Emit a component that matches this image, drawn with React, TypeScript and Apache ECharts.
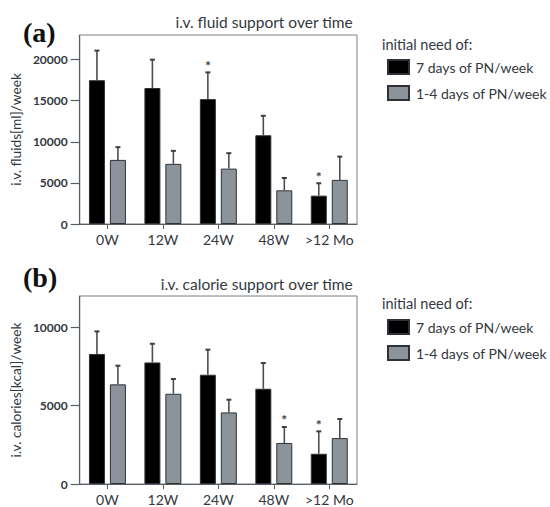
import React, { useEffect, useRef } from "react";
import * as echarts from "echarts";

const categories = ["0W", "12W", "24W", "48W", ">12 Mo"];
const seriesNames = ["7 days of PN/week", "1-4 days of PN/week"];

// Panel (a): i.v. fluids [ml]/week
const fluidDaily = [17500, 16550, 15200, 10800, 3450];
const fluidDailySd = [3600, 3450, 3250, 2370, 1510];
const fluidDailyStar = [0, 0, 1, 0, 1];
const fluidPartial = [7800, 7320, 6740, 4100, 5370];
const fluidPartialSd = [1550, 1580, 1880, 1500, 2830];
const fluidPartialStar = [0, 0, 0, 0, 0];
const fluidTicks = [0, 5000, 10000, 15000, 20000];

// Panel (b): i.v. calories [kcal]/week
const calDaily = [8300, 7760, 6975, 6080, 1930];
const calDailySd = [1440, 1190, 1600, 1640, 1430];
const calDailyStar = [0, 0, 0, 0, 1];
const calPartial = [6360, 5760, 4570, 2620, 2930];
const calPartialSd = [1190, 940, 810, 1020, 1220];
const calPartialStar = [0, 0, 0, 1, 0];
const calTicks = [0, 5000, 10000];

const TEXT = "#33383e";
const AXIS = "#5a5f66";
const GREY = "#8c939b";
const FONT = "Lato, 'Open Sans', sans-serif";
const BAR_W = 16;
const OFFSET = 10.5;

function errRows(vals: number[], sds: number[], stars: number[]) {
  return vals.map((v, i) => [i, v, sds[i], stars[i]]);
}

function errSeries(rows: number[][], axis: number, dir: number) {
  return {
    type: "custom",
    xAxisIndex: axis,
    yAxisIndex: axis,
    encode: { x: 0, y: 1 },
    data: rows,
    z: 5,
    silent: true,
    renderItem: (params: any, api: any) => {
      const idx = api.value(0);
      const v = api.value(1);
      const sd = api.value(2);
      const star = api.value(3);
      const base = api.coord([idx, v]);
      const top = api.coord([idx, v + sd]);
      const x = base[0] + dir * OFFSET;
      const children: any[] = [
        {
          type: "line",
          shape: { x1: x, y1: base[1], x2: x, y2: top[1] },
          style: { stroke: "#4a4f55", lineWidth: 1.6 },
        },
        {
          type: "line",
          shape: { x1: x - 2.5, y1: top[1], x2: x + 2.5, y2: top[1] },
          style: { stroke: "#3a3f45", lineWidth: 2 },
        },
      ];
      if (star) {
        children.push({
          type: "text",
          x: x,
          y: top[1] - 7,
          style: {
            text: "*",
            fill: "#3a3f45",
            font: "bold 14px " + FONT,
            align: "center",
            verticalAlign: "middle",
          },
        });
      }
      return { type: "group", children };
    },
  };
}

function barSeries(name: string, data: number[], axis: number, color: string) {
  return {
    type: "bar",
    name,
    xAxisIndex: axis,
    yAxisIndex: axis,
    data,
    barWidth: BAR_W,
    barGap: "31%",
    itemStyle: { color, borderColor: "#2e3238", borderWidth: 1 },
  };
}

function yAxis(gridIndex: number, max: number, ticks: number[], name: string) {
  return {
    type: "value",
    gridIndex,
    min: 0,
    max,
    interval: 5000,
    name,
    nameLocation: "middle",
    nameGap: 53,
    nameTextStyle: { color: TEXT, fontSize: 13.7, fontFamily: FONT },
    axisLine: { show: true, lineStyle: { color: AXIS, width: 1.2 } },
    axisTick: { show: true, length: 9, lineStyle: { color: AXIS, width: 1.2 }, customValues: ticks },
    axisLabel: {
      color: TEXT,
      fontSize: 12,
      fontFamily: FONT,
      fontWeight: "bold",
      margin: 12,
      customValues: ticks,
      formatter: (v: number) => String(v),
    },
    splitLine: { show: false },
  };
}

function xAxis(gridIndex: number) {
  return {
    type: "category",
    gridIndex,
    data: categories,
    axisLine: { show: true, lineStyle: { color: AXIS, width: 1.2 } },
    axisTick: { show: true, alignWithLabel: true, length: 5, lineStyle: { color: AXIS } },
    axisLabel: { color: TEXT, fontSize: 14, fontFamily: FONT, margin: 8, interval: 0 },
  };
}

export default function App() {
  const ref = useRef<HTMLDivElement>(null);
  useEffect(() => {
    if (!ref.current) return;
    const chart = echarts.init(ref.current, null, { renderer: "svg" });
    const legendBase = {
      orient: "vertical",
      left: 382,
      itemWidth: 21,
      itemHeight: 14,
      itemGap: 10,
      icon: "rect",
      selectedMode: false,
      textStyle: { color: TEXT, fontSize: 14, fontFamily: FONT, padding: [0, 0, 0, 2] },
      data: seriesNames,
    };
    chart.setOption({
      animation: false,
      backgroundColor: "#ffffff",
      title: [
        { text: "(a)", left: 18, top: 13, textStyle: { fontFamily: "'Liberation Serif', serif", fontSize: 28, fontWeight: "bold", color: "#111" } },
        { text: "i.v. fluid support over time", right: 192, top: 9, textStyle: { fontFamily: FONT, fontSize: 15.5, fontWeight: "normal", color: TEXT } },
        { text: "(b)", left: 18, top: 258, textStyle: { fontFamily: "'Liberation Serif', serif", fontSize: 28, fontWeight: "bold", color: "#111" } },
        { text: "i.v. calorie support over time", right: 192, top: 271, textStyle: { fontFamily: FONT, fontSize: 15.5, fontWeight: "normal", color: TEXT } },
      ],
      graphic: [
        { type: "text", left: 382, top: 37, style: { text: "initial need of:", fill: TEXT, font: "14.5px " + FONT } },
        { type: "text", left: 382, top: 296, style: { text: "initial need of:", fill: TEXT, font: "14.5px " + FONT } },
      ],
      legend: [
        { ...legendBase, top: 54 },
        { ...legendBase, top: 314 },
      ],
      grid: [
        { left: 74, top: 35, width: 283, height: 189, show: true, borderColor: "#7a7f86", borderWidth: 1 },
        { left: 74, top: 296, width: 283, height: 188, show: true, borderColor: "#7a7f86", borderWidth: 1 },
      ],
      xAxis: [xAxis(0), xAxis(1)],
      yAxis: [
        yAxis(0, 23000, fluidTicks, "i.v. fluids[ml]/week"),
        yAxis(1, 12000, calTicks, "i.v. calories[kcal]/week"),
      ],
      series: [
        barSeries(seriesNames[0], fluidDaily, 0, "#000000"),
        barSeries(seriesNames[1], fluidPartial, 0, GREY),
        barSeries(seriesNames[0], calDaily, 1, "#000000"),
        barSeries(seriesNames[1], calPartial, 1, GREY),
        errSeries(errRows(fluidDaily, fluidDailySd, fluidDailyStar), 0, -1),
        errSeries(errRows(fluidPartial, fluidPartialSd, fluidPartialStar), 0, 1),
        errSeries(errRows(calDaily, calDailySd, calDailyStar), 1, -1),
        errSeries(errRows(calPartial, calPartialSd, calPartialStar), 1, 1),
      ],
    });
    return () => chart.dispose();
  }, []);
  return (
    <div
      ref={ref}
      style={{ position: "absolute", left: 0, top: 0, width: 550, height: 507 }}
    />
  );
}
